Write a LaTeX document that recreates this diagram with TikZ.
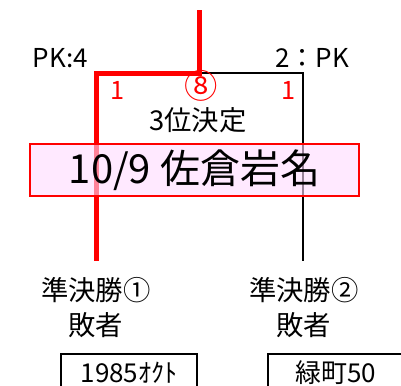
\documentclass[tikz,border=0pt]{standalone}
\usepackage{fontspec}
\setmainfont{Noto Sans CJK JP}
\usepackage{tikz}
\usetikzlibrary{positioning,calc}
\definecolor{datepink}{RGB}{255,219,255}

\begin{document}
\begin{tikzpicture}[x=0.75pt,y=-0.75pt,inner sep=0pt,node distance=7pt]
	\tikzstyle{win}=[draw=red,line width=3.75pt]
	\tikzstyle{lose}=[draw=black,line width=1.5pt]
	\tikzstyle{pk}=[font=\fontsize{19.5}{19.5}\selectfont]
	\tikzstyle{score}=[text=red,font=\fontsize{19}{19}\selectfont]
	\tikzstyle{game}=[font=\fontsize{20.5}{20.5}\selectfont]
	\tikzstyle{datebox}=[draw=red,line width=1.2pt,fill=datepink,fill opacity=0.6,text opacity=1,minimum width=246.75pt,minimum height=39pt,font=\fontsize{30}{30}\selectfont]
	\tikzstyle{team}=[draw,line width=1.5pt,minimum width=102pt,minimum height=28.5pt,font=\fontsize{19.5}{19.5}\selectfont]

	\useasboundingbox (0,0) rectangle (401,386);
	\clip (0,0) rectangle (401,386);

	\coordinate (top) at (199,10);
	\coordinate (fork) at (199,73);
	\coordinate (cornerR) at (303,73);

	\node[game] (semi1) at (96,290) {準決勝①};
	\node[game] (loser1) [below=of semi1] {敗者};
	\node[game] (semi2) at (304,290) {準決勝②};
	\node[game] (loser2) [below=of semi2] {敗者};

	\draw[lose,shorten >=12pt] (fork) -- (cornerR) -- (cornerR |- semi2.north);
	\draw[win,shorten >=12pt] (top) -- (fork) -| (semi1.north);

	\node[datebox] (day) at (194.5,170) {10/9 佐倉岩名};

	\node[game] (third) at (198,120) {3位決定};
	\node[score] (goal1) at (118,90.5) {1};
	\node[score] (goal2) at (289,90.5) {1};
	\node[score,font=\fontsize{25}{25}\selectfont] (match) at (201,86) {⑧};
	\node[pk,anchor=base east] (pk1) at (88,67) {PK:4};
	\node[pk,anchor=base west] (pk2) at (275,67) {2：PK};

	\node[team] (team1) at (129,373) {1985ｵｸﾄ};
	\node[team] (team2) at (336,373) {緑町50};
\end{tikzpicture}
\end{document}
